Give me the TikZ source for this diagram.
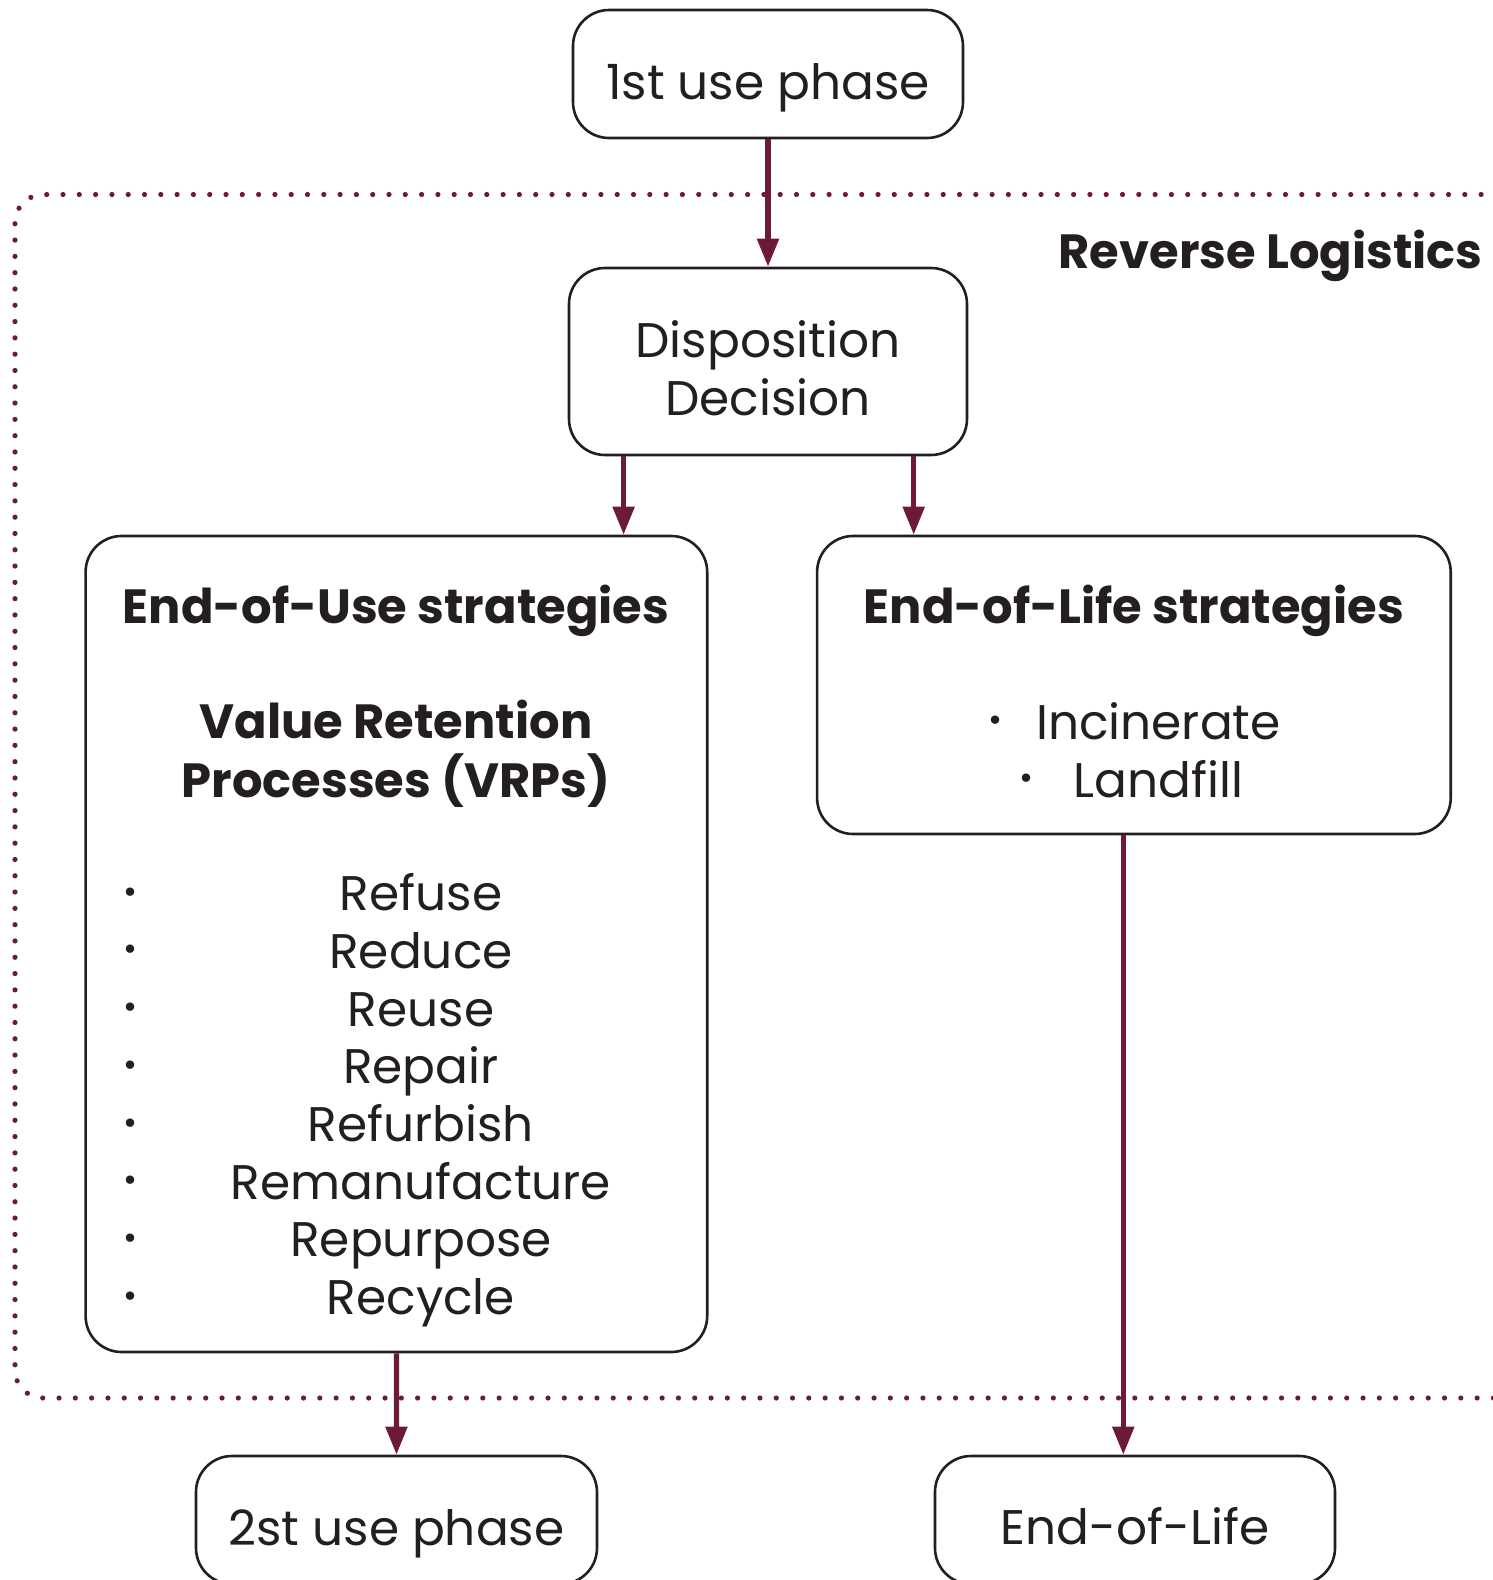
\documentclass[tikz,border=0pt]{standalone}
\usepackage{fontspec}
\setmainfont{Poppins}
\usetikzlibrary{arrows.meta}
\definecolor{maroon}{HTML}{6D1A36}
\definecolor{ink}{HTML}{231F20}
\begin{document}
\begin{tikzpicture}[x=0.5pt,y=-0.5pt,
  box/.style={draw=ink,line width=1.3pt,rounded corners=18pt,inner sep=0pt},
  arr/.style={draw=maroon,line width=2.6pt,-{Triangle[width=10.5pt,length=14pt]}},
  txt/.style={text=ink,inner sep=0pt,font=\fontsize{24.3}{29}\selectfont},
  btxt/.style={text=ink,inner sep=0pt,font=\fontsize{24}{29}\selectfont\bfseries},
  bul/.style={text=ink,inner sep=0pt,font=\fontsize{17}{17}\selectfont}]
\useasboundingbox (0,0) rectangle (1493,1580);
% dotted frame
\draw[maroon,line width=2.6pt,line cap=round,dash pattern=on 0pt off 8.15pt,rounded corners=14pt]
  (1530,194.5) -- (15,194.5) -- (15,1398) -- (1530,1398);
% boxes
\node[box,minimum width=195pt,minimum height=64pt] (u1) at (768,74) {};
\node[box,minimum width=199pt,minimum height=93.5pt] (dd) at (768,361.5) {};
\node[box,minimum width=310.8pt,minimum height=408pt] (eou) at (396.4,944) {};
\node[box,minimum width=316.8pt,minimum height=149pt] (eols) at (1133.9,685) {};
\node[box,minimum width=200.5pt,minimum height=64pt] (u2) at (396.5,1520) {};
\node[box,minimum width=200pt,minimum height=64pt] (eol) at (1135,1520) {};
% box labels
\node[txt,anchor=base] (u1t) at ([yshift=-12.5pt]u1.center) {1st use phase};
\node[txt,anchor=base] (dd1) at ([yshift=2.25pt]dd.center) {Disposition};
\node[txt,anchor=base] (dd2) at ([yshift=-26.75pt]dd.center) {Decision};
\node[txt,anchor=base] (u2t) at ([yshift=-12.5pt]u2.center) {2st use phase};
\node[txt,anchor=base] (eolt2) at ([yshift=-12pt]eol.center) {End-of-Life};
% arrows
\coordinate (c2) at (623.6,0);
\coordinate (c3) at (913.7,0);
\coordinate (c5) at (1123.3,0);
\draw[arr] (u1.south) -- (dd.north);
\draw[arr] (c2 |- dd.south) -- (c2 |- eou.north);
\draw[arr] (c3 |- dd.south) -- (c3 |- eols.north);
\draw[arr] (eou.south) -- (u2.north);
\draw[arr] (c5 |- eols.south) -- (c5 |- eol.north);
% texts
\node[btxt,anchor=base east] (rl) at (1483,268) {Reverse Logistics};
\node[btxt,anchor=base] (eout) at (396,623.6) {End-of-Use strategies};
\node[btxt,anchor=base] (vrp1) at (396,738.4) {Value Retention};
\node[btxt,anchor=base] (vrp2) at (396,797) {Processes (VRPs)};
\foreach \t [count=\i] in {Refuse,Reduce,Reuse,Repair,Refurbish,Remanufacture,Repurpose,Recycle}{
  \node[txt,anchor=base] (it\i) at (421,{910.7+57.7*(\i-1)}) {\t};
  \node[bul] (b\i) at (131,{895.5+57.7*(\i-1)}) {•};
}
\node[btxt,anchor=base] (eolt) at (1134,623.6) {End-of-Life strategies};
\node[txt,anchor=base] (inc) at (1158.5,739.4) {Incinerate};
\node[txt,anchor=base] (land) at (1158.5,797) {Landfill};
\node[bul] (bi) at (995,724) {•};
\node[bul] (bl) at (1026.5,782) {•};
\end{tikzpicture}
\end{document}
